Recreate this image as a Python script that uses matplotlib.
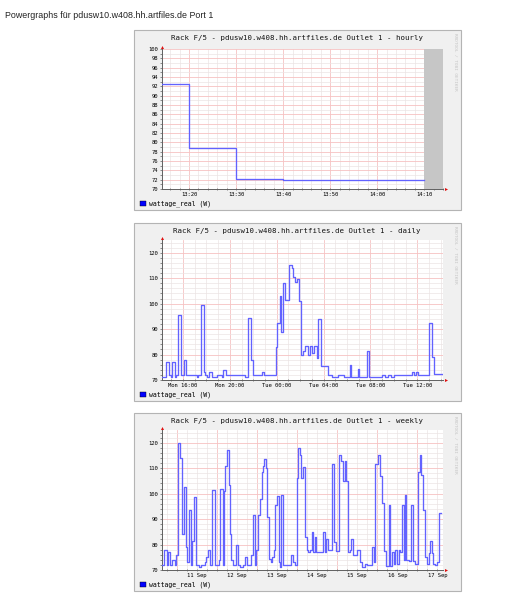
import matplotlib
matplotlib.use('Agg')
import matplotlib.pyplot as plt
import matplotlib.dates as mdates
import matplotlib.ticker as mticker
from matplotlib.patches import Rectangle, Patch
import pandas as pd

W, H = 528, 600
MONO = 'DejaVu Sans Mono'

page_title = 'Powergraphs für pdusw10.w408.hh.artfiles.de Port 1'
graph_title = 'Rack F/5 - pdusw10.w408.hh.artfiles.de Outlet 1 - {}'
legend_label = 'wattage_real (W)'
side_text = 'RRDTOOL / TOBI OETIKER'

# hourly graph (17 Sep 2013)
hourly_times = ['13:14', '13:20', '13:30', '13:40', '14:10']
hourly_watts = [92.5, 78.8, 72.2, 72.0, 72.0]
hourly_unknown = ['14:10', '14:14']

# daily graph (Mon 16 Sep -> Tue 17 Sep)
daily_times = ['09-16 14:12', '09-16 14:33', '09-16 14:48', '09-16 14:59', '09-16 15:05',
               '09-16 15:17', '09-16 15:24', '09-16 15:36', '09-16 15:48', '09-16 16:05',
               '09-16 16:17', '09-16 17:10', '09-16 17:18', '09-16 17:32', '09-16 17:46',
               '09-16 17:54', '09-16 18:01', '09-16 18:15', '09-16 18:27', '09-16 18:56',
               '09-16 19:22', '09-16 19:26', '09-16 19:40', '09-16 21:17', '09-16 21:35',
               '09-16 21:47', '09-16 21:56', '09-16 22:43', '09-16 22:55', '09-16 23:55',
               '09-17 00:03', '09-17 00:15', '09-17 00:22', '09-17 00:33', '09-17 00:44',
               '09-17 01:03', '09-17 01:16', '09-17 01:21', '09-17 01:32', '09-17 01:42',
               '09-17 01:52', '09-17 02:05', '09-17 02:17', '09-17 02:27', '09-17 02:39',
               '09-17 02:51', '09-17 03:02', '09-17 03:10', '09-17 03:24', '09-17 03:31',
               '09-17 03:45', '09-17 04:22', '09-17 04:45', '09-17 05:13', '09-17 05:44',
               '09-17 06:13', '09-17 06:21', '09-17 06:55', '09-17 07:04', '09-17 07:43',
               '09-17 07:55', '09-17 08:58', '09-17 09:15', '09-17 09:29', '09-17 09:46',
               '09-17 10:03', '09-17 11:34', '09-17 11:42', '09-17 11:54', '09-17 12:03',
               '09-17 13:02', '09-17 13:14', '09-17 13:24', '09-17 14:08']
daily_watts = [71, 77, 72, 71, 77,
               71, 72, 95.5, 72, 78,
               72, 71, 72, 99.5, 73,
               72, 71, 73, 71, 72,
               71, 74, 72, 71, 94.5,
               78, 72, 73, 72, 83,
               92.5, 103, 89, 108, 101.5,
               115, 114, 110.5, 108.5, 109.5,
               101, 80, 81.5, 83.5, 80,
               83.5, 80.5, 83.5, 78.5, 94,
               75.5, 72, 71, 72, 71,
               76, 71, 74.5, 71, 81.5,
               71, 72, 71, 72, 71,
               72, 73, 72, 73, 72,
               92.5, 79, 72.5, 72.5]

# weekly graph, hours after 11 Sep 2013 00:00
weekly_hours = [-8.7, -7.4, -6.0, -5.0, -4.0, -2.5, -0.9, -0.1, 1.1, 1.9,
                3.5, 4.3, 5.5, 6.5, 7.5, 8.6, 9.4, 10.4, 11.8, 13.4,
                14.4, 16.8, 17.8, 18.6, 19.8, 21.3, 22.9, 25.3, 26.1, 27.7,
                28.1, 28.9, 30.1, 31.1, 32.1, 32.8, 34.0, 35.6, 36.6, 38.2,
                39.6, 40.8, 42.0, 44.7, 45.7, 46.9, 47.5, 48.9, 49.7, 50.9,
                51.9, 52.5, 53.5, 54.3, 55.3, 56.4, 57.0, 58.0, 58.8, 59.8,
                61.0, 61.8, 62.6, 63.8, 68.5, 69.5, 70.7, 71.9, 72.7, 73.9,
                74.7, 75.5, 76.9, 77.7, 78.3, 79.8, 80.8, 81.6, 82.6, 83.6,
                87.6, 88.6, 89.6, 90.6, 93.1, 94.3, 95.5, 97.1, 98.5, 99.7,
                100.5, 101.5, 102.5, 103.5, 104.4, 105.4, 108.0, 109.4, 111.0, 112.6,
                114.0, 116.9, 117.9, 118.9, 120.3, 121.5, 122.9, 123.9, 125.5, 126.9,
                127.8, 128.8, 129.8, 130.8, 131.8, 132.8, 133.8, 134.8, 135.8, 136.4,
                137.4, 138.2, 139.2, 140.1, 141.3, 142.3, 144.3, 145.3, 146.3, 147.3,
                148.3, 149.7, 150.7, 151.7, 152.6, 153.6, 154.6, 155.6, 157.0, 158.0]
weekly_watts = [72, 78, 72, 77, 72, 74, 72, 76, 120, 114,
                84, 102.5, 79, 73, 93.5, 72, 81.5, 98.5, 72, 71,
                72, 73, 75, 78, 72, 101.5, 72, 74, 102, 72,
                101, 111, 117, 103.5, 84, 74, 72, 80, 72, 71,
                72, 75, 72, 76, 91.5, 72, 78, 91.5, 98, 108.5,
                111, 113.5, 110, 91, 74.5, 73, 75, 78, 95.5, 99,
                73, 71, 99.5, 72, 76, 73, 72, 106, 118, 115,
                106, 110.5, 83, 78, 77, 78, 85, 77, 83, 77,
                85, 77, 82, 78, 111.5, 81, 77.5, 115, 113, 105,
                113, 105, 77, 78, 82, 76, 78, 73, 71, 72.5,
                72, 79, 73, 111.5, 115, 107, 96.5, 77.5, 71.5, 95.5,
                71.5, 77, 72.5, 78, 72.5, 78, 77, 95.5, 74, 99.5,
                74, 74, 73.5, 95.5, 73.5, 72.5, 108.5, 115, 107.5, 93.5,
                75, 72.5, 76.5, 81.5, 76.5, 72.5, 72, 73, 92.5, 92.5]


def fx(x):
    return x / W


def fy(y):
    return 1 - y / H


def rrd_frame(fig, top, bottom, name):
    # grey RRDtool background box, title, side text
    fig.add_artist(Rectangle((fx(134), fy(bottom)), fx(461) - fx(134), fy(top) - fy(bottom),
                             transform=fig.transFigure, fc='#f0f0f0', ec='#b4b4b4', lw=0.8,
                             zorder=-1))
    fig.text(fx(297), fy(top + 8), graph_title.format(name), ha='center', va='center',
             family=MONO, fontsize=5.3, color='#111111')
    fig.text(fx(455), fy(top + 3), side_text, rotation=270, ha='center', va='top',
             family=MONO, fontsize=3.2, color='#c4c4c4')
    ax = fig.add_axes([fx(162), fy(bottom - 21), fx(443) - fx(162), 140 / H])
    ax.set_facecolor('white')
    for s in ['top', 'right']:
        ax.spines[s].set_visible(False)
    for s in ['left', 'bottom']:
        ax.spines[s].set_color('#606060')
        ax.spines[s].set_linewidth(0.7)
    ax.tick_params(which='both', labelsize=4.0, length=1.5, width=0.5, pad=1.5,
                   color='#606060', labelfontfamily=MONO)
    ax.tick_params(axis='x', which='both', direction='inout')
    ax.grid(which='major', color='#f6c2c2', lw=0.6, zorder=0)
    ax.grid(which='minor', color='#ebe4e4', lw=0.5, zorder=0)
    fig.legend(handles=[Patch(fc='#0000ff', ec='#000000', lw=0.3, label=legend_label)],
               loc='center left', bbox_to_anchor=(fx(140), fy(bottom - 6)), frameon=False,
               prop={'family': MONO, 'size': 4.7}, handlelength=0.9, handleheight=0.9,
               handletextpad=0.5, borderpad=0, borderaxespad=0)
    return ax


def arrows(ax):
    ax.plot([1.011], [0], transform=ax.transAxes, marker='>', ms=2.2, color='#e01010',
            clip_on=False, mew=0)
    ax.plot([0], [1.017], transform=ax.transAxes, marker='^', ms=2.2, color='#e01010',
            clip_on=False, mew=0)


fig = plt.figure(figsize=(W / 100, H / 100), dpi=100)
fig.text(fx(5), fy(15), page_title, family='Liberation Sans', fontsize=6.4,
         ha='left', va='center', color='#222222')

line_kw = dict(where='post', color='#6262ff', lw=0.95, zorder=3)

# --- hourly ---
ax1 = rrd_frame(fig, 30, 210, 'hourly')
t1 = pd.to_datetime(['2013-09-17 ' + t for t in hourly_times])
ax1.step(t1, hourly_watts, **line_kw)
unk = pd.to_datetime(['2013-09-17 ' + t for t in hourly_unknown])
ax1.axvspan(unk[0], unk[1], color='#c6c6c6', lw=0, zorder=2)
ax1.set_xlim(pd.Timestamp('2013-09-17 13:14:15'), unk[1])
ax1.set_ylim(70, 100)
ax1.yaxis.set_major_locator(mticker.MultipleLocator(2))
ax1.yaxis.set_minor_locator(mticker.MultipleLocator(1))
ax1.xaxis.set_major_locator(mdates.MinuteLocator(byminute=range(0, 60, 10)))
ax1.xaxis.set_minor_locator(mdates.MinuteLocator(byminute=range(0, 60, 2)))
ax1.xaxis.set_major_formatter(mdates.DateFormatter('%H:%M'))
arrows(ax1)

# --- daily ---
ax2 = rrd_frame(fig, 223, 401, 'daily')
t2 = pd.to_datetime(['2013-' + t for t in daily_times])
ax2.step(t2, daily_watts, **line_kw)
ax2.set_xlim(pd.Timestamp('2013-09-16 14:12'), pd.Timestamp('2013-09-17 14:12'))
ax2.set_ylim(70, 125)
ax2.yaxis.set_major_locator(mticker.MultipleLocator(10))
ax2.yaxis.set_minor_locator(mticker.MultipleLocator(2))
ax2.xaxis.set_major_locator(mdates.HourLocator(byhour=range(0, 24, 4)))
ax2.xaxis.set_minor_locator(mdates.HourLocator())
ax2.xaxis.set_major_formatter(mdates.DateFormatter('%a %H:%M'))
arrows(ax2)

# --- weekly ---
ax3 = rrd_frame(fig, 413, 591, 'weekly')
t3 = pd.Timestamp('2013-09-11 00:00') + pd.to_timedelta(weekly_hours, unit='h')
ax3.step(t3, weekly_watts, **line_kw)
ax3.set_xlim(pd.Timestamp('2013-09-10 15:18'), pd.Timestamp('2013-09-17 15:18'))
ax3.set_ylim(70, 125)
ax3.yaxis.set_major_locator(mticker.MultipleLocator(10))
ax3.yaxis.set_minor_locator(mticker.MultipleLocator(2))
ax3.xaxis.set_major_locator(mdates.DayLocator())
ax3.xaxis.set_major_formatter(mticker.NullFormatter())
ax3.xaxis.set_minor_locator(mdates.HourLocator(byhour=[0, 6, 12, 18]))


def noon_label(v, pos):
    d = mdates.num2date(v)
    return d.strftime('%d %b') if d.hour == 12 else ''


ax3.xaxis.set_minor_formatter(mticker.FuncFormatter(noon_label))
arrows(ax3)

fig.savefig('out.png', dpi=100, facecolor='white')
